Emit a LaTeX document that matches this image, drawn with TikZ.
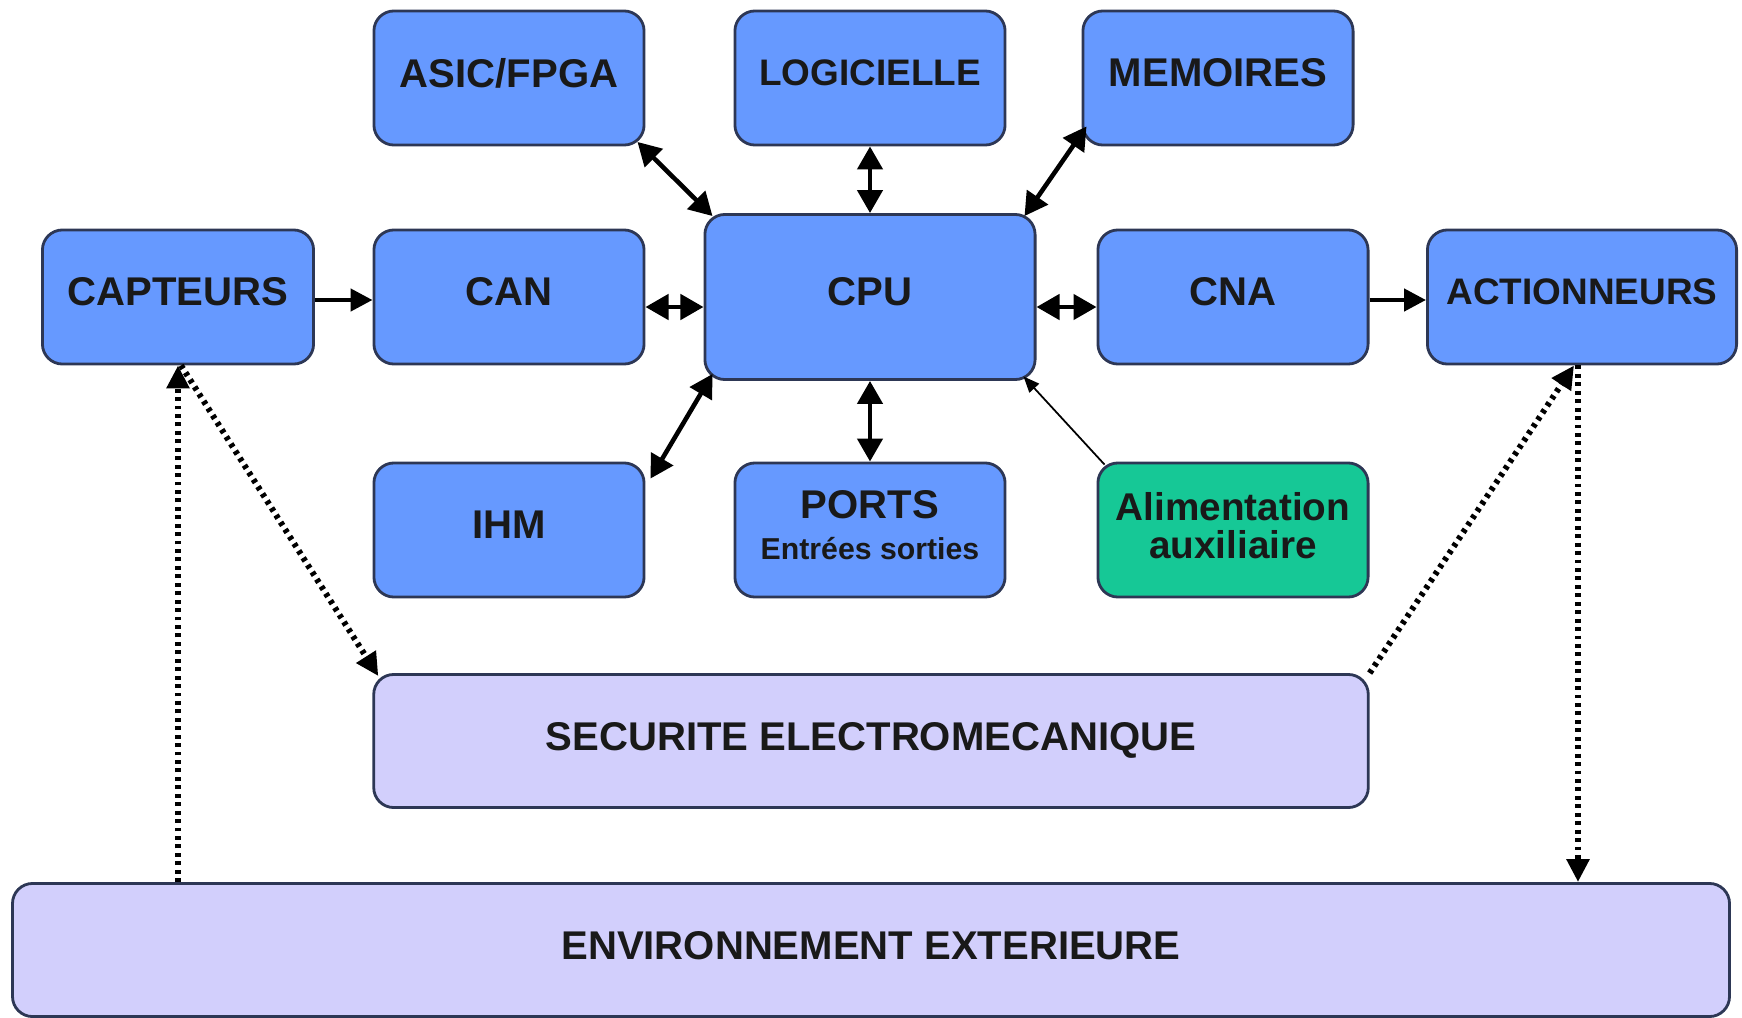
\documentclass[tikz,border=0pt]{standalone}
\usepackage{fontspec}
\setmainfont{Liberation Sans}
\usetikzlibrary{arrows.meta}
\definecolor{bloc}{RGB}{102,153,255}
\definecolor{bord}{RGB}{45,55,85}
\definecolor{lavande}{RGB}{210,207,252}
\definecolor{vert}{RGB}{22,200,150}
\begin{document}
\begin{tikzpicture}[x=0.01cm,y=-0.01cm,
    boite/.style={draw=bord, line width=0.8pt, rounded corners=0.2cm, fill=bloc,
        minimum width=2.7cm, minimum height=1.34cm, align=center, text depth=0.1cm,
        font=\bfseries\fontsize{11.4}{11.4}\selectfont, text=black!90},
    serre/.style={font=\bfseries\fontsize{10.5}{10.5}\selectfont},
    large/.style={boite, fill=lavande, minimum height=1.33cm},
    fleche/.style={line width=1.3pt, {Triangle[length=0.23cm,width=0.25cm]}-{Triangle[length=0.23cm,width=0.25cm]}},
    simple/.style={line width=1.3pt, -{Triangle[length=0.22cm,width=0.22cm]}},
    fine/.style={line width=0.5pt, -{Triangle[length=0.16cm,width=0.13cm]}},
    pointille/.style={line width=1.7pt, dash pattern=on 1.1pt off 1.3pt, -{Triangle[length=0.23cm,width=0.22cm]}}]
    \useasboundingbox (0,0) rectangle (1742,1018);
    \node[boite] (asic) at (509,78) {ASIC/FPGA};
    \node[boite, serre] (logi) at (870,78) {LOGICIELLE};
    \node[boite] (mem) at (1218,78) {MEMOIRES};
    \node[boite, minimum width=2.71cm] (capt) at (178,297) {CAPTEURS};
    \node[boite] (can) at (509,297) {CAN};
    \node[boite, minimum width=3.3cm, minimum height=1.65cm] (cpu) at (870,297) {CPU};
    \node[boite] (cna) at (1233,297) {CNA};
    \node[boite, serre, minimum width=3.09cm] (act) at (1582,297) {ACTIONNEURS};
    \node[boite] (ihm) at (509,530) {IHM};
    \node[boite] (ports) at (870,530) {PORTS\\[0.5pt]{\fontsize{8.6}{8.6}\selectfont Entrées sorties}};
    \node[boite, fill=vert, font=\bfseries\fontsize{11}{10.8}\selectfont] (alim) at (1233,530) {Alimentation\\auxiliaire};
    \node[large, minimum width=9.94cm] (secu) at (871,741) {SECURITE ELECTROMECANIQUE};
    \node[large, minimum width=17.16cm] (env) at (871,950) {ENVIRONNEMENT EXTERIEURE};
    \coordinate (actbas) at ([xshift=-0.04cm]act.south);
    \draw[fleche] ([xshift=-0.08cm,yshift=0.045cm]asic.south east) -- ([xshift=0.09cm,yshift=-0.03cm]cpu.north west);
    \draw[fleche] (logi) -- (cpu);
    \draw[fleche] ([xshift=0.05cm,yshift=0.2cm]mem.south west) -- ([xshift=-0.12cm,yshift=-0.03cm]cpu.north east);
    \draw[simple] ([yshift=-0.03cm]capt.east) -- ([yshift=-0.03cm]can.west);
    \draw[fleche] ([yshift=-0.1cm]can.east) -- ([yshift=-0.1cm]cpu.west);
    \draw[fleche] ([yshift=-0.1cm]cpu.east) -- ([yshift=-0.1cm]cna.west);
    \draw[simple] ([yshift=-0.03cm]cna.east) -- ([yshift=-0.03cm]act.west);
    \draw[fleche] ([xshift=0.05cm,yshift=-0.17cm]ihm.north east) -- ([xshift=0.09cm,yshift=0.07cm]cpu.south west);
    \draw[fleche] (cpu) -- (ports);
    \draw[fine] ([xshift=0.08cm,yshift=-0.03cm]alim.north west) -- ([xshift=-0.13cm,yshift=0.045cm]cpu.south east);
    \draw[pointille] (env.north -| capt.south) -- (capt.south);
    \draw[pointille] ([xshift=0.03cm]capt.south) -- ([xshift=0.06cm,yshift=-0.03cm]secu.north west);
    \draw[pointille] (secu.north east) -- ([xshift=-0.04cm]actbas);
    \draw[pointille] (actbas) -- (env.north -| actbas);
\end{tikzpicture}
\end{document}
